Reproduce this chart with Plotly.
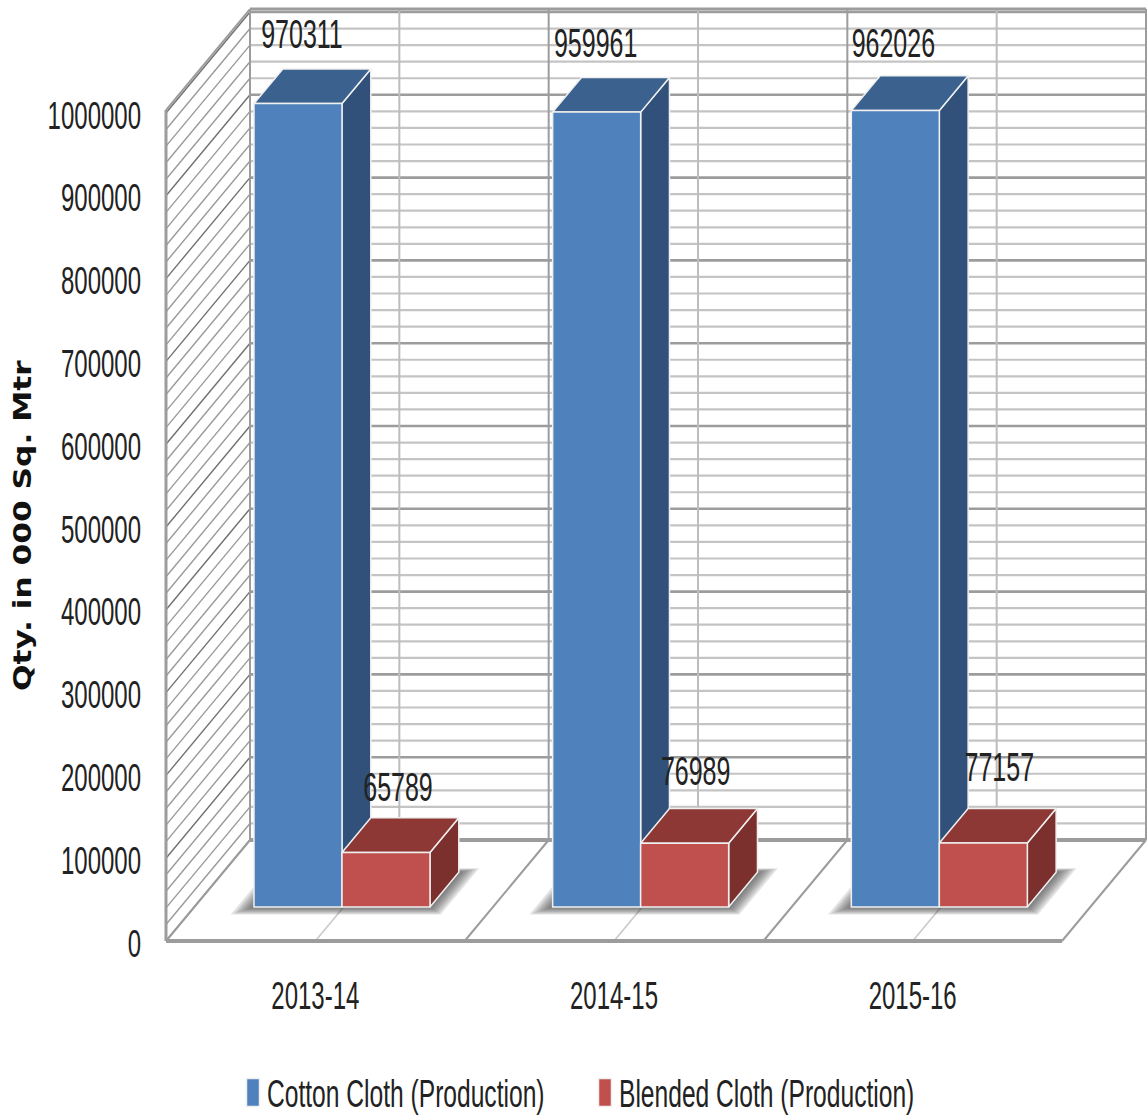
import plotly.graph_objects as go

# Chart data
years = ["2013-14", "2014-15", "2015-16"]
cotton = [970311, 959961, 962026]
blended = [65789, 76989, 77157]
series_names = ["Cotton Cloth (Production)", "Blended Cloth (Production)"]
y_ticks = list(range(0, 1000001, 100000))

# Geometry of the oblique box, in axis units
PX_X = 298.67                 # pixels per category
PX_Y = 828 / 1e6              # pixels per unit of quantity
DX = 84 / PX_X                # full depth of the floor along x
DY = 101 / PX_Y               # full depth of the floor along y
N = len(years)
WALL_TOP = 1003500
BAR_W = 88 / PX_X
BAR_NEAR, BAR_FAR = 0.337, 0.68
BAR_LEFT = 0.2946             # left edge of the first column within a category

# Page layout of the plot area, in pixels
WIDTH, HEIGHT = 1147, 1117
M_L, M_B = 160, 170
ORIGIN_X, ORIGIN_Y = 166, 941
PLOT_W, PLOT_H = WIDTH - M_L, HEIGHT - M_B

FONT = "Liberation Sans, Arial, sans-serif"
INK = "#222222"
LINE = "#9c9c9c"
BLUE = ("#4f81bd", "#3b628f", "#31517a")
RED = ("#c0504d", "#8e3836", "#7c302e")


def project(x, y, depth):
    """Move a point on the front plane back to the given floor depth."""
    return x + depth * DX, y + depth * DY


def seg(p, q, color, width):
    return dict(type="line", xref="x", yref="y", layer="below",
                x0=p[0], y0=p[1], x1=q[0], y1=q[1],
                line=dict(color=color, width=width))


def poly(points, color, opacity):
    path = "M" + " L".join(f"{a},{b}" for a, b in points) + " Z"
    return dict(type="path", xref="x", yref="y", layer="below", path=path,
                fillcolor=color, opacity=opacity, line=dict(width=0))


shapes = []

# Left wall hatching and back wall rules
for v in range(0, 1000001, 20000):
    major = v % 100000 == 0
    shapes.append(seg(project(0, v, 0), project(0, v, 1),
                      "#707070" if major else "#9a9a9a", 1.4))
    shapes.append(seg(project(0, v, 1), project(N, v, 1),
                      "#9c9c9c" if major else "#c4c4c4", 2.6 if major else 2.2))

# Vertical rules on the back wall, diagonal rules on the floor
for k in range(0, 2 * N + 1):
    x = k / 2
    if k % 2:
        shapes.append(seg(project(x, 0, 1), project(x, WALL_TOP, 1), "#bdbdbd", 2))
        shapes.append(seg(project(x, 0, 0), project(x, 0, 1), "#c8c8c8", 1.5))
    else:
        shapes.append(seg(project(x, 0, 1), project(x, WALL_TOP, 1), LINE, 2))
        shapes.append(seg(project(x, 0, 0), project(x, 0, 1), LINE, 2))

# Box outline
shapes += [
    seg(project(0, 0, 0), project(N, 0, 0), LINE, 4),
    seg(project(0, 0, 1), project(N, 0, 1), LINE, 4),
    seg(project(0, 0, 0), project(0, WALL_TOP, 0), LINE, 3),
    seg(project(0, WALL_TOP, 0), project(0, WALL_TOP, 1), LINE, 2),
    seg(project(0, WALL_TOP, 1), project(N, WALL_TOP, 1), LINE, 3),
]

# Soft shadows on the floor, built up from nested translucent layers
for i in range(N):
    left = i + BAR_LEFT - BAR_NEAR * DX
    right = left + 2 * BAR_W
    for grow in (1.0, 0.85, 0.7, 0.55, 0.4, 0.25, 0.1):
        ex = grow * 17 / PX_X
        near = BAR_NEAR - grow * 0.075
        far = BAR_FAR + grow * 0.04
        shapes.append(poly([project(left - ex, 0, near), project(right + ex, 0, near),
                            project(right + ex, 0, far), project(left - ex, 0, far)],
                           "#3a3a3a", 0.14))

fig = go.Figure()


def add_box(x_left, value, colors):
    """Side and top faces of one column; the front face comes from a bar trace."""
    x_right = x_left + BAR_W
    base = BAR_NEAR * DY
    d = BAR_FAR - BAR_NEAR
    top = base + value
    side = [(x_right, base), (x_right, top),
            (x_right + d * DX, top + d * DY), (x_right + d * DX, base + d * DY)]
    roof = [(x_left, top), (x_right, top),
            (x_right + d * DX, top + d * DY), (x_left + d * DX, top + d * DY)]
    for face, color in ((side, colors[2]), (roof, colors[1])):
        xs, ys = zip(*(face + face[:1]))
        fig.add_trace(go.Scatter(x=xs, y=ys, mode="lines", fill="toself",
                                 fillcolor=color, line=dict(color="#f0f0f0", width=1.5),
                                 showlegend=False, hoverinfo="skip", zorder=0))


for i in range(N):
    add_box(i + BAR_LEFT, cotton[i], BLUE)
for i in range(N):
    add_box(i + BAR_LEFT + BAR_W, blended[i], RED)

bar_base = BAR_NEAR * DY
for offset, values, colors, name in ((BAR_LEFT, cotton, BLUE, series_names[0]),
                                     (BAR_LEFT + BAR_W, blended, RED, series_names[1])):
    fig.add_trace(go.Bar(
        x=[i + offset + BAR_W / 2 for i in range(N)], y=values, base=bar_base,
        width=BAR_W, name=name,
        marker=dict(color=colors[0], line=dict(color="#f0f0f0", width=1.5)),
        hoverinfo="skip", zorder=1))

# Value labels sit above each column, with small per-column nudges
nudge_x = [[4, -1, -2], [12, 11, 16]]
nudge_y = [[67, 67, 65], [63, 70, 74]]
for s, (offset, values) in enumerate(((BAR_LEFT, cotton), (BAR_LEFT + BAR_W, blended))):
    fig.add_trace(go.Scatter(
        x=[i + offset + BAR_W / 2 + nudge_x[s][i] / PX_X for i in range(N)],
        y=[bar_base + values[i] + nudge_y[s][i] / PX_Y for i in range(N)],
        mode="text", text=[str(v) for v in values], textposition="middle center",
        textfont=dict(family=FONT, size=25, color=INK),
        showlegend=False, hoverinfo="skip", zorder=2))

fig.update_layout(
    width=WIDTH, height=HEIGHT, autosize=False,
    margin=dict(l=M_L, r=0, t=0, b=M_B, pad=0, autoexpand=False),
    paper_bgcolor="white", plot_bgcolor="white",
    barmode="overlay", shapes=shapes,
    font=dict(family=FONT, size=24, color=INK),
    xaxis=dict(range=[-(ORIGIN_X - M_L) / PX_X, (WIDTH - ORIGIN_X) / PX_X],
               tickvals=[i + 0.5 for i in range(N)], ticktext=years,
               showgrid=False, zeroline=False, showline=False, ticks="",
               ticklabelstandoff=32, tickfont=dict(family=FONT, size=24, color=INK),
               automargin=False, fixedrange=True),
    yaxis=dict(range=[-(HEIGHT - M_B - ORIGIN_Y) / PX_Y, ORIGIN_Y / PX_Y],
               tickvals=y_ticks, ticktext=[str(v) for v in y_ticks],
               showgrid=False, zeroline=False, showline=False, ticks="",
               ticklabelstandoff=18, tickfont=dict(family=FONT, size=24, color=INK),
               automargin=False, fixedrange=True),
    legend=dict(orientation="h", x=(233 - M_L) / PLOT_W, y=-(1070 - PLOT_H) / PLOT_H,
                xanchor="left", yanchor="top", font=dict(family=FONT, size=24.6, color=INK),
                bgcolor="rgba(0,0,0,0)", entrywidth=307, entrywidthmode="pixels",
                traceorder="normal"),
    annotations=[dict(text="<b>Qty. in 000 Sq. Mtr</b>", xref="paper", yref="paper",
                      x=(22 - M_L) / PLOT_W, y=(PLOT_H - 526) / PLOT_H, textangle=-90,
                      xanchor="center", yanchor="middle", showarrow=False,
                      font=dict(family="DejaVu Sans", size=25, color="#111111"))],
)

# The type is tall and condensed: stretch each text element about its own centre
POST_SCRIPT = """
var gd = document.getElementById('{plot_id}');
function stretch(selector, kx, ky, dx, dy) {
  gd.querySelectorAll(selector).forEach(function (t) {
    var b = t.getBBox();
    var ax = parseFloat(t.getAttribute('x')) || 0;
    var cy = b.y + b.height / 2;
    var before = t.getAttribute('transform') || '';
    t.setAttribute('transform', 'translate(' + dx + ',' + dy + ') ' + before + ' translate(' + ax + ',' + cy +
      ') scale(' + kx + ',' + ky + ') translate(' + (-ax) + ',' + (-cy) + ')');
  });
}
stretch('.xtick text, .textpoint text', 1, 1.6, 0, 0);
stretch('.ytick text', 1, 1.6, 0, 2);
stretch('.legendtext', 1, 1.6, -6, 0);
stretch('.annotation-text', 1.25, 1, 0, 0);
gd.querySelectorAll('.legendpoints path').forEach(function (p) {
  p.setAttribute('d', 'M6.5,14H-6.5V-14H6.5Z');
});
gd.querySelectorAll('.legend .scrollbox').forEach(function (s) { s.removeAttribute('clip-path'); s.style.clipPath = 'none'; });
"""

fig.write_html("out.html", post_script=POST_SCRIPT)
